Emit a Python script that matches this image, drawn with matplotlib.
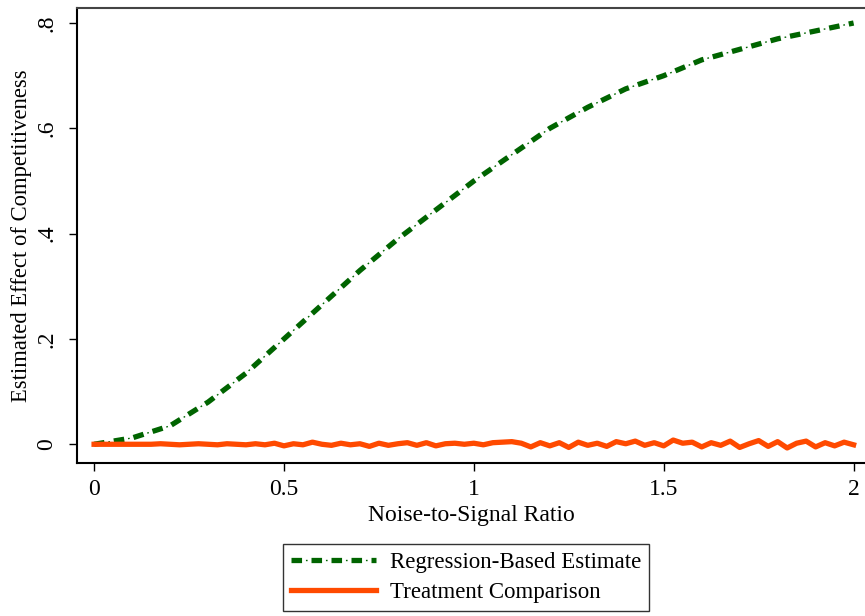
import numpy as np
import matplotlib
matplotlib.use("Agg")
import matplotlib.pyplot as plt

plt.rcParams["font.family"] = ["Liberation Serif", "DejaVu Serif"]
plt.rcParams["lines.scale_dashes"] = False

GREEN, ORANGE = "#006400", "#ff4a00"

# regression-based estimate, read at steps of 0.1
reg_x = [0.0, 0.1, 0.2, 0.3, 0.4, 0.5, 0.6, 0.7, 0.8, 0.9, 1.0,
         1.1, 1.2, 1.3, 1.4, 1.5, 1.6, 1.7, 1.8, 1.9, 2.0]
reg_y = [0.0, 0.012, 0.035, 0.08, 0.135, 0.20, 0.265, 0.33, 0.39, 0.445, 0.50,
         0.55, 0.60, 0.64, 0.675, 0.70, 0.73, 0.75, 0.77, 0.785, 0.80]

# treatment comparison, read at steps of 0.025
trt_x = [i * 0.025 for i in range(81)]
trt_y = [0.000, 0.000, 0.000, 0.000, 0.000, 0.000, 0.000, 0.001, 0.000, -0.001,
         0.000, 0.001, 0.000, -0.001, 0.001, 0.000, -0.001, 0.001, -0.001, 0.002,
         -0.003, 0.001, -0.001, 0.004, 0.000, -0.002, 0.002, -0.001, 0.001, -0.004,
         0.002, -0.002, 0.001, 0.003, -0.002, 0.003, -0.003, 0.001, 0.002, 0.000,
         0.002, -0.001, 0.003, 0.004, 0.005, 0.002, -0.005, 0.003, -0.003, 0.003,
         -0.006, 0.004, -0.002, 0.002, -0.004, 0.005, 0.001, 0.006, -0.002, 0.003,
         -0.003, 0.008, 0.002, 0.004, -0.005, 0.003, -0.002, 0.006, -0.006, 0.001,
         0.007, -0.004, 0.005, -0.007, 0.002, 0.006, -0.005, 0.003, -0.003, 0.004,
         -0.001]

xticks = [0, 0.5, 1, 1.5, 2]
xtick_labels = ["0", "0.5", "1", "1.5", "2"]
yticks = [0, 0.2, 0.4, 0.6, 0.8]
ytick_labels = ["0", ".2", ".4", ".6", ".8"]

fig = plt.figure(figsize=(8.65, 6.16), dpi=100)
ax = fig.add_axes([0.089, 0.248, 0.911, 0.739])

# dash-dot built from a thick dashed line plus a thin "dot" line
g1, = ax.plot(reg_x, reg_y, color=GREEN, lw=3.8, linestyle=(0, (7.6, 6.8)), zorder=2)
g2, = ax.plot(reg_x, reg_y, color=GREEN, lw=1.0, linestyle=(4.0, (1.2, 13.2)), zorder=2)
r, = ax.plot(trt_x, trt_y, color=ORANGE, lw=3.8, zorder=3)

ax.set_xlim(-0.045, 2.03)
ax.set_ylim(-0.036, 0.8285)
ax.set_xticks(xticks)
ax.set_xticklabels(xtick_labels)
ax.set_yticks(yticks)
ax.set_yticklabels(ytick_labels, rotation=90, va="center")
ax.tick_params(labelsize=17, length=6, width=1, color="black", direction="out")
ax.tick_params(axis="y", pad=8)
ax.tick_params(axis="x", pad=5)

for s in ["left", "bottom"]:
    ax.spines[s].set_linewidth(1.5)
    ax.spines[s].set_color("black")
ax.spines["top"].set_linewidth(1.5)
ax.spines["top"].set_color("#444444")
ax.spines["right"].set_visible(False)

ax.set_xlabel("Noise-to-Signal Ratio", fontsize=17, labelpad=4)
ax.set_ylabel("Estimated Effect of Competitiveness", fontsize=16.3, labelpad=3)

leg = fig.legend([(g1, g2), r], ["Regression-Based Estimate", "Treatment Comparison"],
                 loc="center", bbox_to_anchor=(0.539, 0.0625), fontsize=16.5,
                 frameon=True, fancybox=False, handlelength=3.7, handletextpad=0.6,
                 labelspacing=0.42, borderpad=0.35)
leg.get_frame().set_edgecolor("black")
leg.get_frame().set_linewidth(1.0)

fig.savefig("out.png", dpi=100)
